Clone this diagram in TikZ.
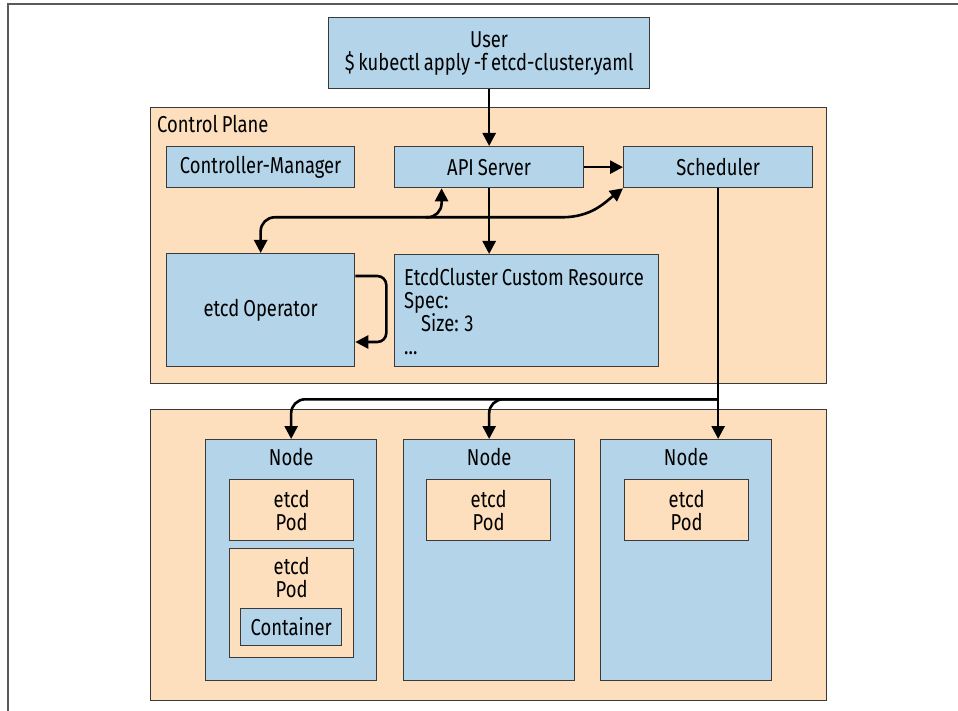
\documentclass[tikz,border=0pt]{standalone}
\usepackage{fontspec}
\setmainfont{Fira Sans}[FakeStretch=0.8, WordSpace=0.8]
\usetikzlibrary{arrows.meta,calc}
\definecolor{kblue}{HTML}{B3D4E9}
\definecolor{kpeach}{HTML}{FDDEBD}
\definecolor{kedge}{HTML}{3A3A3A}
\definecolor{kframe}{HTML}{5A5A5A}
\begin{document}
\begin{tikzpicture}[x=1pt,y=-1pt,
  every node/.style={font=\fontsize{23}{23}\selectfont, inner sep=0pt, text=black},
  panel/.style={draw=kedge, fill=kpeach, line width=1.3pt, anchor=north west},
  bbox/.style={draw=kedge, fill=kblue, line width=1.3pt, anchor=north west, align=center},
  pbox/.style={draw=kedge, fill=kpeach, line width=1.3pt, anchor=north west, align=center},
  nodebox/.style={bbox, minimum width=171, minimum height=241,
    label={[anchor=base, label distance=-26pt]north:Node}},
  podbox/.style={pbox, minimum width=124, minimum height=61},
  conn/.style={line width=2.6pt, -{Triangle[length=13pt,width=13pt]}},
  conntwo/.style={line width=2.6pt, {Triangle[length=13pt,width=13pt]}-{Triangle[length=13pt,width=13pt]}},
]
\useasboundingbox (0,0) rectangle (958,711);
\draw[kframe, line width=1.5pt] (8,711) -- (8,4) -- (958,4);

% top user box
\node[bbox, minimum width=321, minimum height=71] (user) at (328,17)
  {User\\\$ kubectl apply -f etcd-cluster.yaml};

% control plane
\node[panel, minimum width=676, minimum height=276,
  label={[anchor=base west, xshift=7pt, yshift=-26pt]north west:Control Plane}] (cp) at (150,107) {};
\node[bbox, minimum width=188, minimum height=41] (cm) at (166,146) {Controller-Manager};
\node[bbox, minimum width=189, minimum height=41] (api) at (394,146) {API Server};
\node[bbox, minimum width=189, minimum height=41] (sched) at (623,146) {Scheduler};
\node[bbox, minimum width=188, minimum height=113] (op) at (166,253) {etcd Operator};
\node[bbox, minimum width=264, minimum height=112,
  label={[anchor=west, align=left, xshift=10pt, yshift=-1pt]west:{EtcdCluster Custom Resource\\Spec:\\\hspace*{17pt}Size: 3\\...}}] (ecr) at (394,254) {};

% worker area
\node[panel, minimum width=676, minimum height=291] (wk) at (150,409) {};
\node[nodebox] (n1) at (205,439) {};
\node[nodebox] (n2) at (403,439) {};
\node[nodebox] (n3) at (600,439) {};
\node[podbox] (p1) at (229,479) {etcd\\Pod};
\node[pbox, minimum width=124, minimum height=109,
  label={[anchor=north, align=center, label distance=-9pt]north:{etcd\\Pod}}] (p2) at (229,548) {};
\node[bbox, minimum width=101, minimum height=37] (ct) at (240,608) {Container};
\node[podbox] (p3) at (426,479) {etcd\\Pod};
\node[podbox] (p4) at (624,479) {etcd\\Pod};

% connectors
\draw[conn] (user.south) -- (api.north);
\draw[conn] (api.east) -- (sched.west);
\draw[conn] (api.south) -- (api.south |- ecr.north);
\draw[conn, rounded corners=9pt] ($(op.north east)+(0,23)$) -- ++(31,0) -- ++(0,66) -- ($(op.north east)+(0,89)$);

\coordinate (apiin) at ($(api.south west)!0.25!(api.south east)$);
\coordinate (bus) at ($(apiin)+(0,29)$);
\draw[conntwo, rounded corners=14pt] (op.north) |- (bus) -- (apiin);
\draw[conn] ($(bus)+(-16,0)$) -- ++(136,0) .. controls +(30,0) and +(-18,14) .. (sched.south west);

\coordinate (br) at ($(sched.south)+(0,211)$);
\draw[conn] (sched.south) -- (sched.south |- n3.north);
\draw[conn, rounded corners=14pt] (br) -| (n1.north);
\draw[conn, rounded corners=14pt] (br) -| (n2.north);
\end{tikzpicture}
\end{document}
